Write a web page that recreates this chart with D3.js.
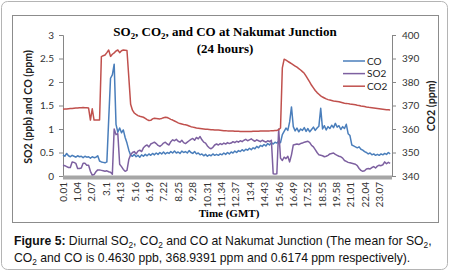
<!DOCTYPE html>
<html>
<head>
<meta charset="utf-8">
<script src="https://cdn.jsdelivr.net/npm/d3@7"></script>
<style>
    body { margin: 0; background: #fff; }
    svg { display: block; }
</style>
</head>
<body>
<svg id="chart" width="450" height="273"></svg>
<script>
var sampleStep = 8
var labelStep = 63   // the category axis shows every 63rd minute

var timeLabels = ["0.01", "1.04", "2.07", "3.1", "4.13", "5.16", "6.19", "7.22", "8.25", "9.28",
    "10.31", "11.34", "12.37", "13.4", "14.43", "15.46", "16.49", "17.52", "18.55", "19.58",
    "21.01", "22.04", "23.07"]

var coValues = [
    0.45,0.42,0.48,0.43,0.41,0.44,0.42,0.40,0.43,0.41,
    0.42,0.39,0.42,0.40,0.41,0.38,0.41,0.39,0.40,0.43,
    0.32,0.30,0.29,0.28,0.30,1.20,2.08,2.15,2.38,1.10,
    0.93,1.02,0.92,0.98,0.82,0.70,0.55,0.44,0.42,0.46,
    0.41,0.44,0.40,0.45,0.42,0.46,0.43,0.47,0.44,0.48,
    0.45,0.49,0.46,0.50,0.47,0.51,0.47,0.50,0.48,0.52,
    0.49,0.53,0.49,0.51,0.48,0.53,0.50,0.52,0.49,0.54,
    0.50,0.48,0.52,0.47,0.49,0.45,0.47,0.43,0.46,0.42,
    0.45,0.43,0.47,0.44,0.46,0.44,0.47,0.45,0.49,0.46,
    0.50,0.47,0.51,0.49,0.53,0.50,0.54,0.52,0.56,0.53,
    0.57,0.55,0.59,0.56,0.60,0.58,0.63,0.60,0.65,0.63,
    0.67,0.64,0.69,0.66,0.71,0.68,0.72,0.70,0.74,0.71,
    0.88,0.95,1.02,0.97,1.15,1.47,1.05,0.96,1.02,0.94,
    1.00,0.97,1.03,0.95,1.01,0.94,0.99,1.04,0.97,1.02,
    1.06,1.44,1.00,1.07,0.98,1.05,1.01,1.08,1.03,1.12,
    1.04,1.07,0.99,1.05,1.01,1.10,0.90,0.86,0.66,0.64,
    0.62,0.60,0.62,0.57,0.55,0.52,0.50,0.47,0.49,0.45,
    0.47,0.44,0.46,0.44,0.47,0.45,0.48,0.46,0.50,0.47]

var so2Values = [
    0.23,0.22,0.20,0.18,0.18,0.30,0.29,0.27,0.16,0.16,
    0.17,0.27,0.27,0.23,0.23,0.10,0.02,0.03,0.09,0.13,
    0.13,0.12,0.11,0.10,0.11,0.09,0.08,0.04,1.00,0.88,
    0.90,0.25,0.20,0.14,0.10,0.12,0.35,0.45,0.50,0.52,
    0.47,0.53,0.55,0.52,0.60,0.64,0.66,0.62,0.68,0.70,
    0.72,0.69,0.65,0.63,0.66,0.70,0.72,0.68,0.66,0.73,
    0.77,0.75,0.78,0.74,0.72,0.76,0.71,0.69,0.72,0.75,
    0.78,0.80,0.76,0.82,0.79,0.84,0.77,0.72,0.70,0.64,
    0.60,0.58,0.61,0.66,0.68,0.66,0.69,0.67,0.70,0.68,
    0.71,0.69,0.70,0.73,0.71,0.74,0.72,0.75,0.73,0.76,
    0.78,0.75,0.77,0.79,0.76,0.74,0.77,0.75,0.73,0.76,
    0.74,0.72,0.75,0.73,0.76,0.05,0.04,0.05,1.00,0.38,
    0.33,0.40,0.37,0.42,0.30,0.45,0.66,0.67,0.68,0.67,
    0.69,0.70,0.72,0.73,0.74,0.71,0.65,0.62,0.56,0.50,
    0.45,0.44,0.43,0.41,0.42,0.44,0.47,0.48,0.49,0.46,
    0.44,0.42,0.41,0.38,0.33,0.31,0.29,0.28,0.27,0.26,
    0.25,0.22,0.16,0.12,0.10,0.11,0.15,0.16,0.15,0.18,
    0.20,0.17,0.21,0.23,0.22,0.24,0.30,0.26,0.29,0.27]

var co2Values = [
    368.4,368.5,368.5,368.6,368.7,368.7,368.8,368.9,368.9,369.0,
    369.0,369.1,369.0,369.0,368.9,363.8,368.6,363.8,363.8,363.8,
    363.8,390.8,391.2,391.5,392.5,393.6,390.9,391.8,392.4,393.2,
    393.6,392.5,393.3,393.6,393.5,393.4,382.0,370.5,368.0,366.8,
    366.2,365.7,365.4,365.2,365.0,364.5,364.0,363.6,363.7,364.3,
    364.6,364.5,364.4,364.3,364.5,364.8,365.0,364.9,364.5,364.1,
    363.8,363.4,363.0,362.6,362.3,362.1,361.9,361.8,361.6,361.3,
    361.0,360.8,360.6,360.4,360.3,360.2,360.1,360.0,359.9,359.9,
    359.8,359.7,359.7,359.6,359.6,359.6,359.5,359.4,359.3,359.3,
    359.2,359.2,359.1,359.1,359.0,359.0,359.0,358.9,358.9,358.9,
    358.9,358.9,358.9,358.9,359.0,359.0,359.0,359.0,359.1,359.1,
    359.1,359.1,359.2,359.2,359.3,359.3,359.4,359.4,359.7,360.4,
    386.0,389.7,389.3,388.8,388.3,387.8,387.3,386.8,386.3,385.7,
    385.1,384.4,383.7,382.5,381.2,379.9,378.6,377.5,376.4,375.5,
    374.8,374.1,373.6,373.2,372.8,372.5,372.3,372.1,371.9,371.8,
    371.7,371.6,371.4,371.2,371.0,370.9,370.8,370.6,370.5,370.4,
    370.3,370.1,370.0,369.8,369.7,369.6,369.4,369.3,369.1,369.0,
    368.9,368.8,368.7,368.6,368.5,368.4,368.3,368.2,368.2,368.1]

var leftTicks = [0, 0.5, 1, 1.5, 2, 2.5, 3]
var rightTicks = [340, 350, 360, 370, 380, 390, 400]

var seriesNames = ["CO", "SO2", "CO2"]
var seriesColors = ["#4a7ebb", "#7d60a0", "#c0504d"]

var margin = { top: 35, left: 63 },
    width = 329,
    height = 141,
    labelFont = 'Lato, "Open Sans", sans-serif',
    serifFont = '"Liberation Serif", "DejaVu Serif", serif',
    axisGray = '#868686'

var svg = d3.select('#chart')

// text with "_2" written as a subscript
function subText(sel, str, size) {
    str.split(/(_\d)/).forEach(function(part) {
        if (!part) return
        if (part[0] === '_') {
            sel.append('tspan')
                .attr('baseline-shift', (-size * 0.22) + 'px')
                .attr('font-size', size * 0.68)
                .text(part.slice(1))
        } else {
            sel.append('tspan').text(part)
        }
    })
    return sel
}

// outer figure frame and chart box
svg.append('rect')
    .attr('x', 1.5).attr('y', 1.5)
    .attr('width', 446).attr('height', 268)
    .attr('rx', 6)
    .attr('fill', '#fff')
    .attr('stroke', '#b4b4b4')

svg.append('rect')
    .attr('x', 12.5).attr('y', 15.5)
    .attr('width', 426).attr('height', 207)
    .attr('fill', '#fff')
    .attr('stroke', '#8c8c8c')

var chartArea = svg.append('g')
    .attr('transform', 'translate(' + margin.left + ',' + margin.top + ')')

var x = d3.scaleLinear().domain([0, 1440]).range([0, width])
var yLeft = d3.scaleLinear().domain([0, 3]).range([height, 0])
var yRight = d3.scaleLinear().domain([340, 400]).range([height, 0])

// axes
var yAxisCall = chartArea.append('g')
    .call(d3.axisLeft(yLeft).tickValues(leftTicks).tickSize(4).tickPadding(5).tickFormat(d3.format('')))

var y2AxisCall = chartArea.append('g')
    .attr('transform', 'translate(' + width + ',0)')
    .call(d3.axisRight(yRight).tickValues(rightTicks).tickSize(4).tickPadding(6).tickFormat(d3.format('')))

;[yAxisCall, y2AxisCall].forEach(function(g) {
    g.select('.domain').attr('stroke', axisGray).attr('stroke-width', 1)
    g.selectAll('.tick line').attr('stroke', axisGray)
    g.selectAll('.tick text')
        .attr('fill', '#333')
        .attr('font-size', '10px')
        .attr('font-family', labelFont)
})

// thick grey category axis
chartArea.append('rect')
    .attr('x', 0).attr('y', height - 0.5)
    .attr('width', width).attr('height', 4)
    .attr('fill', '#a6a6a6')

chartArea.append('g').selectAll('text')
    .data(timeLabels)
    .enter()
    .append('text')
    .attr('transform', function(d, i) {
        return 'translate(' + x(i * labelStep + 0.5) + ',' + (height + 6) + ') rotate(-90)'
    })
    .attr('text-anchor', 'end')
    .attr('dy', '0.35em')
    .attr('font-size', '10px')
    .attr('font-family', labelFont)
    .attr('fill', '#333')
    .text(function(d) { return d })

// series
var lineLeft = d3.line()
    .x(function(d, i) { return x(i * sampleStep) })
    .y(function(d) { return yLeft(d) })

var lineRight = d3.line()
    .x(function(d, i) { return x(i * sampleStep) })
    .y(function(d) { return yRight(d) })

chartArea.append('path')
    .datum(coValues)
    .attr('d', lineLeft)
    .attr('fill', 'none')
    .attr('stroke', seriesColors[0])
    .attr('stroke-width', 1.5)
    .attr('stroke-linejoin', 'round')

chartArea.append('path')
    .datum(so2Values)
    .attr('d', lineLeft)
    .attr('fill', 'none')
    .attr('stroke', seriesColors[1])
    .attr('stroke-width', 1.5)
    .attr('stroke-linejoin', 'round')

chartArea.append('path')
    .datum(co2Values)
    .attr('d', lineRight)
    .attr('fill', 'none')
    .attr('stroke', seriesColors[2])
    .attr('stroke-width', 1.5)
    .attr('stroke-linejoin', 'round')

// legend
var legend = svg.append('g').attr('transform', 'translate(343,61)')
seriesNames.forEach(function(d, i) {
    var item = legend.append('g').attr('transform', 'translate(0,' + (12.6 * i) + ')')
    item.append('line')
        .attr('x1', 0).attr('x2', 22)
        .attr('stroke', seriesColors[i])
        .attr('stroke-width', 1.5)
    item.append('text')
        .attr('x', 24)
        .attr('dy', '0.35em')
        .attr('font-size', '10px')
        .attr('font-family', labelFont)
        .attr('fill', '#222')
        .text(d)
})

// titles
subText(svg.append('text')
    .attr('x', 225).attr('y', 36)
    .attr('text-anchor', 'middle')
    .attr('font-family', serifFont)
    .attr('font-weight', 'bold')
    .attr('font-size', '13px'), 'SO_2, CO_2, and CO at Nakumat Junction', 13)

svg.append('text')
    .attr('x', 225).attr('y', 52.5)
    .attr('text-anchor', 'middle')
    .attr('font-family', serifFont)
    .attr('font-weight', 'bold')
    .attr('font-size', '13px')
    .text('(24 hours)')

svg.append('text')
    .attr('transform', 'translate(28,107) rotate(-90)')
    .attr('text-anchor', 'middle')
    .attr('dy', '0.35em')
    .attr('font-family', labelFont)
    .attr('font-weight', 'bold')
    .attr('font-size', '10.6px')
    .attr('fill', '#222')
    .text('SO2 (ppb) and CO (ppm)')

svg.append('text')
    .attr('transform', 'translate(431,106) rotate(-90)')
    .attr('text-anchor', 'middle')
    .attr('dy', '0.35em')
    .attr('font-family', labelFont)
    .attr('font-weight', 'bold')
    .attr('font-size', '10.6px')
    .attr('fill', '#222')
    .text('CO2 (ppm)')

svg.append('text')
    .attr('x', 229).attr('y', 217)
    .attr('text-anchor', 'middle')
    .attr('font-family', serifFont)
    .attr('font-weight', 'bold')
    .attr('font-size', '11px')
    .text('Time (GMT)')

// figure caption
var cap1 = svg.append('text')
    .attr('x', 14).attr('y', 245)
    .attr('font-family', '"Liberation Sans", Arial, sans-serif')
    .attr('font-size', '12.2px')
    .attr('fill', '#111')
cap1.append('tspan').attr('font-weight', 'bold').text('Figure 5:')
subText(cap1, ' Diurnal SO_2, CO_2 and CO at Nakumat Junction (The mean for SO_2,', 12.2)

var cap2 = svg.append('text')
    .attr('x', 14).attr('y', 262)
    .attr('font-family', '"Liberation Sans", Arial, sans-serif')
    .attr('font-size', '12.2px')
    .attr('fill', '#111')
subText(cap2, 'CO_2 and CO is 0.4630 ppb, 368.9391 ppm and 0.6174 ppm respectively).', 12.2)
</script>
</body>
</html>
